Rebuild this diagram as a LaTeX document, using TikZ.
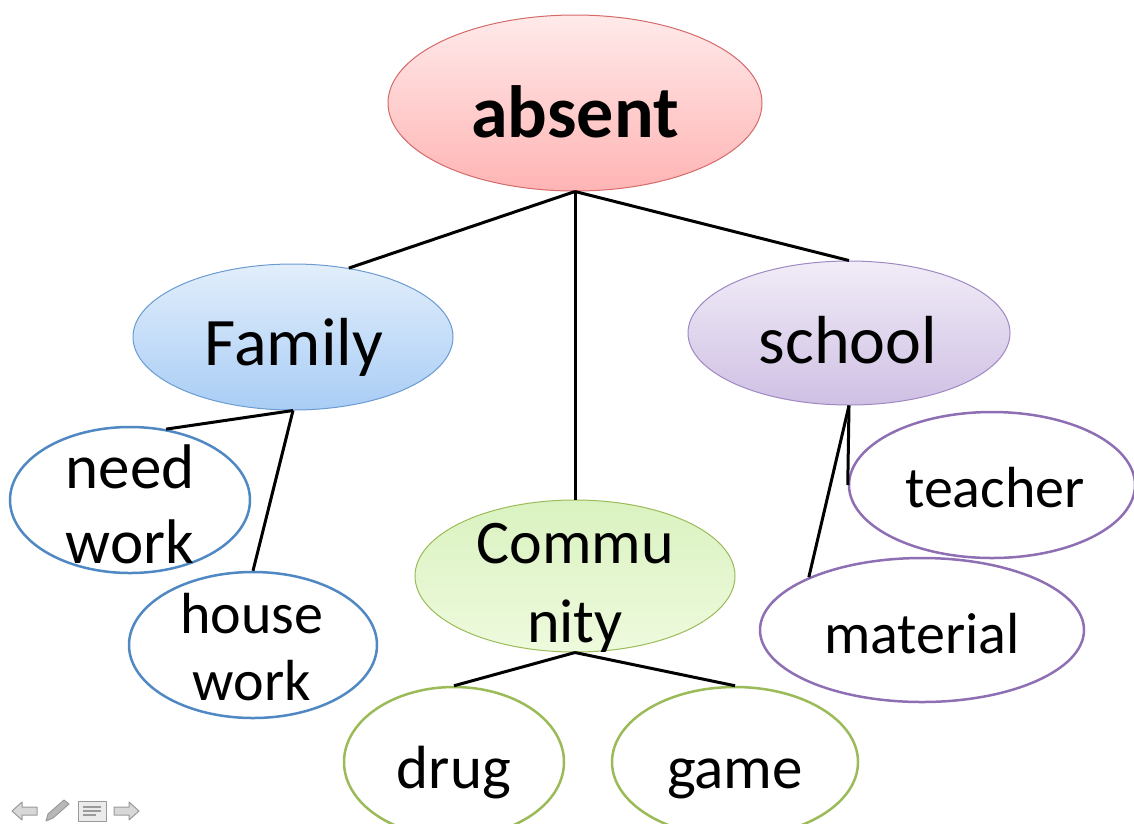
\documentclass[tikz,border=0pt]{standalone}
\usepackage{fontspec}
\setmainfont{Carlito}
\usetikzlibrary{shapes.geometric}
\definecolor{redline}{HTML}{D46A6A}
\definecolor{redtop}{HTML}{FFEAEA}
\definecolor{redbot}{HTML}{FFB4B4}
\definecolor{bluetop}{HTML}{E2EEFB}
\definecolor{bluefill}{HTML}{A9CDF5}
\definecolor{blueline}{HTML}{6A9BD1}
\definecolor{bluering}{HTML}{4F88C2}
\definecolor{purptop}{HTML}{F1ECF7}
\definecolor{purpfill}{HTML}{CFC0E4}
\definecolor{purpline}{HTML}{9F88C3}
\definecolor{purpring}{HTML}{8F6FB3}
\definecolor{greentop}{HTML}{DAF2C0}
\definecolor{greenbot}{HTML}{EEFADD}
\definecolor{greenline}{HTML}{9BBB59}
\definecolor{iconline}{HTML}{9A9A9A}
\definecolor{iconfill}{HTML}{D8D8D8}
\tikzset{
  oval/.style={ellipse, inner sep=0pt},
  topnode/.style={oval, draw=redline, line width=1pt, top color=redtop, bottom color=redbot},
  famnode/.style={oval, draw=blueline, line width=1pt, top color=bluetop, bottom color=bluefill},
  schnode/.style={oval, draw=purpline, line width=1pt, top color=purptop, bottom color=purpfill},
  comnode/.style={oval, draw=greenline, line width=1pt, top color=greentop, bottom color=greenbot},
  bluering/.style={oval, draw=bluering, line width=2.5pt},
  purpring/.style={oval, draw=purpring, line width=2.5pt},
  greenring/.style={oval, draw=greenline, line width=2.5pt},
  txt/.style={anchor=base, inner sep=0pt, font=\fontsize{58}{70}\selectfont},
  bigtxt/.style={anchor=base, inner sep=0pt, font=\fontsize{68}{80}\selectfont},
  link/.style={black, line width=3pt},
  icon/.style={draw=iconline, fill=iconfill, line width=1pt, line join=round}
}
\begin{document}
\begin{tikzpicture}[x=1pt,y=-1pt]
\useasboundingbox (0,0) rectangle (1134,823);
\begin{scope}
\clip (0,0) rectangle (1134,823);
% ellipses
\node[topnode, minimum width=374pt, minimum height=176pt] (abs) at (575,103) {};
\node[famnode, minimum width=320pt, minimum height=146pt] (fam) at (293,337) {};
\node[schnode, minimum width=322pt, minimum height=144pt] (sch) at (849,333) {};
\node[comnode, minimum width=320pt, minimum height=152pt] (com) at (575,576) {};
\node[bluering, minimum width=240pt, minimum height=146pt] (nw) at (130,500) {};
\node[bluering, minimum width=248pt, minimum height=146pt] (hw) at (253,645) {};
\node[purpring, minimum width=286pt, minimum height=146pt] (tea) at (992,485) {};
\node[purpring, minimum width=324pt, minimum height=144pt] (mat) at (922,630) {};
\node[greenring, minimum width=220pt, minimum height=150pt] (drg) at (454,762) {};
\node[greenring, minimum width=246pt, minimum height=150pt] (gam) at (735,762) {};
% connectors
\draw[link] (abs.south) -- (fam.51);
\draw[link] (abs.south) -- (sch.north);
\draw[link] (abs.south) -- (com.north);
\draw[link] (fam.south) -- (nw.63);
\draw[link] (fam.south) -- (hw.north);
\draw[link] (sch.south) -- (tea.west);
\draw[link] (sch.south) -- (mat.155);
\draw[link] (com.south) -- (drg.north);
\draw[link] (com.south) -- (gam.north);
% texts
\node[anchor=base, inner sep=0pt, font=\fontsize{74}{88}\selectfont\bfseries] (abs-t) at (575,137) {absent};
\node[bigtxt] (fam-t) at (294,365) {Family};
\node[bigtxt] (sch-t) at (848,363) {school};
\node[txt, font=\fontsize{62}{70}\selectfont] (com-t1) at (575,563) {Commu};
\node[txt, font=\fontsize{62}{70}\selectfont] (com-t2) at (575,642) {nity};
\node[txt, font=\fontsize{63}{70}\selectfont] (nw-t1) at (130,488) {need};
\node[txt, font=\fontsize{63}{70}\selectfont] (nw-t2) at (130,563) {work};
\node[txt] (hw-t1) at (252,633) {house};
\node[txt] (hw-t2) at (252,700) {work};
\node[txt] (tea-t) at (995,507) {teacher};
\node[txt] (mat-t) at (922,653) {material};
\node[txt, font=\fontsize{61}{70}\selectfont] (drg-t) at (454,788) {drug};
\node[txt, font=\fontsize{61}{70}\selectfont] (gam-t) at (735,788) {game};
% navigation icons
\draw[icon] (12,811) -- (22,802) -- (22,807) -- (37,807) -- (37,815) -- (22,815) -- (22,820) -- cycle;
\draw[icon, fill=iconline!70] (46,821) -- (48,814) -- (64,800) -- (69,804) -- (53,818) -- cycle;
\draw[icon, fill=white!92!black] (78,801) rectangle (106,821);
\draw[iconline, line width=1.5pt] (83,807) -- (101,807) (83,811) -- (101,811) (83,815) -- (96,815);
\draw[icon] (139,811) -- (129,802) -- (129,807) -- (114,807) -- (114,815) -- (129,815) -- (129,820) -- cycle;
\end{scope}
\end{tikzpicture}
\end{document}
